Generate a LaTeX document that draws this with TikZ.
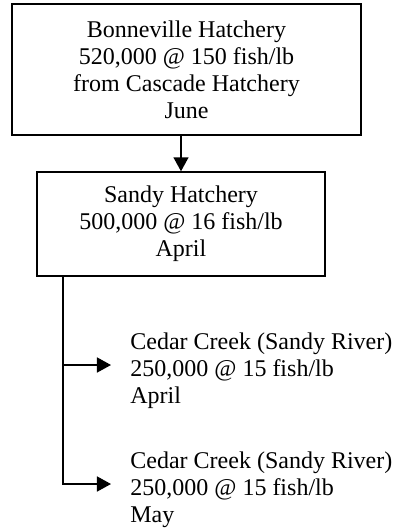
\documentclass[tikz,border=0pt]{standalone}
\usepackage{fontspec}
\setmainfont{Liberation Serif}
\usetikzlibrary{arrows.meta}
\begin{document}
\begin{tikzpicture}[x=0.5pt,y=-0.5pt,
  box/.style={draw,line width=0.75pt,align=center,inner sep=0pt,font=\fontsize{12}{13.5}\selectfont},
  lbl/.style={align=left,anchor=west,inner xsep=9.5pt,inner ysep=0pt,font=\fontsize{12}{13.5}\selectfont},
  conn/.style={line width=0.75pt,-{Triangle[length=7pt,width=7.5pt]}}]
\useasboundingbox (0,0) rectangle (396,532);
\node[box,minimum width=174.5pt,minimum height=65.5pt] (b1) at (186.5,69.5)
  {Bonneville Hatchery\\520,000 @ 150 fish/lb\\from Cascade Hatchery\\June};
\node[box,minimum width=144pt,minimum height=52pt] (b2) at (181,224)
  {Sandy Hatchery\\500,000 @ 16 fish/lb\\April};
\node[lbl] (c1) at (111,371) {Cedar Creek (Sandy River)\\250,000 @ 15 fish/lb\\April};
\node[lbl] (c2) at (111,490) {Cedar Creek (Sandy River)\\250,000 @ 15 fish/lb\\May};
\coordinate (tx) at (63,0);
\coordinate (e1) at ([yshift=3pt]c1.west);
\coordinate (e2) at ([yshift=3pt]c2.west);
\draw[conn] (b1.south -| b2.north) -- (b2.north);
\draw[line width=0.75pt] (b2.south -| tx) -- (e1 -| tx);
\draw[conn] (e1 -| tx) -- (e1);
\draw[conn] (b2.south -| tx) |- (e2);
\end{tikzpicture}
\end{document}
